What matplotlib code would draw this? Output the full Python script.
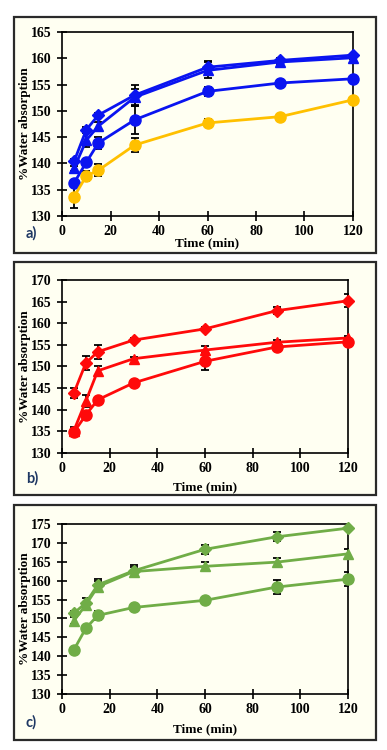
import matplotlib
matplotlib.use("Agg")
import matplotlib.pyplot as plt
from matplotlib.patches import Rectangle

time = [5, 10, 15, 30, 60, 90, 120]

# Panel a (blue + orange)
a_diamond = [140.4, 146.4, 149.2, 153.0, 158.3, 159.6, 160.6]
a_diamond_err = [0.4, 0.5, 0.4, 2.0, 1.2, 0.4, 0.3]
a_triangle = [139.1, 144.4, 147.1, 152.6, 157.7, 159.3, 160.1]
a_triangle_err = [0.5, 1.3, 0.8, 1.5, 1.5, 0.4, 0.3]
a_circle = [136.3, 140.2, 143.9, 148.3, 153.7, 155.3, 156.1]
a_circle_err = [0.6, 0.6, 1.2, 2.7, 0.8, 0.3, 0.3]
a_orange = [133.7, 137.6, 138.7, 143.5, 147.7, 148.9, 152.1]
a_orange_err = [2.2, 1.0, 1.1, 1.3, 0.8, 0.3, 0.3]

# Panel b (red)
b_diamond = [143.9, 150.8, 153.4, 156.1, 158.7, 162.9, 165.2]
b_diamond_err = [1.2, 1.6, 1.6, 0.5, 0.5, 0.8, 1.5]
b_triangle = [135.2, 142.0, 149.0, 151.8, 153.8, 155.6, 156.6]
b_triangle_err = [0.8, 1.3, 1.0, 0.4, 0.9, 0.6, 0.5]
b_circle = [134.8, 138.8, 142.3, 146.2, 151.2, 154.5, 155.7]
b_circle_err = [0.8, 0.4, 0.4, 0.3, 2.0, 0.9, 0.5]

# Panel c (green)
c_diamond = [151.4, 154.1, 158.9, 162.6, 168.3, 171.6, 173.9]
c_diamond_err = [0.6, 1.2, 1.6, 1.6, 1.2, 1.2, 0.3]
c_triangle = [149.4, 153.6, 158.4, 162.4, 163.8, 164.9, 167.1]
c_triangle_err = [1.0, 0.8, 1.5, 1.3, 1.2, 1.2, 1.3]
c_circle = [141.7, 147.4, 150.8, 152.9, 154.8, 158.3, 160.4]
c_circle_err = [0.6, 0.3, 1.2, 0.3, 0.3, 1.8, 1.8]

xticks = [0, 20, 40, 60, 80, 100, 120]
ylims = [(130, 165), (130, 170), (130, 175)]
panel_labels = ["a)", "b)", "c)"]

BLUE = "#0A14F0"
ORANGE = "#FFC000"
RED = "#FF0A0A"
GREEN = "#70AD47"
CREAM = "#FFFFF2"

W, H = 387, 750
fig = plt.figure(figsize=(W / 100, H / 100), dpi=100)

def fx(px):
    return px / W

def fy(py):
    return 1 - py / H

panel_boxes = [(14, 17, 376, 253), (14, 262, 376, 495), (14, 505, 376, 740)]
axes_boxes = [(62, 32, 353, 216), (62, 280, 348, 453), (62, 524, 348, 694)]
xlabel_y = [243, 487, 729]
plabel_y = [233, 478, 722]
ylabel_x = 31

series = [
    [(a_diamond, a_diamond_err, "D", BLUE, 6),
     (a_triangle, a_triangle_err, "^", BLUE, 7.5),
     (a_circle, a_circle_err, "o", BLUE, 8),
     (a_orange, a_orange_err, "o", ORANGE, 8)],
    [(b_diamond, b_diamond_err, "D", RED, 6),
     (b_triangle, b_triangle_err, "^", RED, 7.5),
     (b_circle, b_circle_err, "o", RED, 8)],
    [(c_diamond, c_diamond_err, "D", GREEN, 6),
     (c_triangle, c_triangle_err, "^", GREEN, 7.5),
     (c_circle, c_circle_err, "o", GREEN, 8)],
]

serif = "Liberation Serif"

for i in range(3):
    l, t, r, b = panel_boxes[i]
    fig.patches.append(Rectangle((fx(l), fy(b)), fx(r) - fx(l), fy(t) - fy(b),
                                 transform=fig.transFigure, facecolor=CREAM,
                                 edgecolor="#2a2a2a", linewidth=1.6, zorder=-10))
    l, t, r, b = axes_boxes[i]
    ax = fig.add_axes([fx(l), fy(b), fx(r) - fx(l), fy(t) - fy(b)])
    ax.set_zorder(1)
    ax.set_facecolor(CREAM)
    for vals, errs, mk, col, ms in series[i]:
        ax.errorbar(time, vals, yerr=errs, fmt="none", ecolor="black",
                    elinewidth=1.3, capsize=3, capthick=1.3, zorder=2)
        ax.plot(time, vals, color=col, lw=2, marker=mk, ms=ms,
                markeredgecolor=col, zorder=3, clip_on=False)
    ax.set_xlim(0, 120)
    ax.set_ylim(*ylims[i])
    ax.set_xticks(xticks)
    ax.set_yticks(range(ylims[i][0], ylims[i][1] + 1, 5))
    ax.tick_params(direction="inout", length=7, width=1.2, labelsize=10)
    ax.tick_params(axis="y", pad=4)
    ax.tick_params(axis="x", pad=3)
    for lab in ax.get_xticklabels() + ax.get_yticklabels():
        lab.set_fontfamily(serif)
        lab.set_fontweight("bold")
    for sp in ax.spines.values():
        sp.set_linewidth(1.2)
        sp.set_color("black")
    ax.set_ylabel("%Water absorption", fontfamily=serif, fontweight="bold",
                  fontsize=9.5)
    ax.yaxis.set_label_coords((ylabel_x - l) / (r - l), 0.5)
    fig.text(fx((l + r) / 2), fy(xlabel_y[i]), "Time (min)", ha="center",
             va="center", fontfamily=serif, fontweight="bold", fontsize=9.5,
             zorder=2)
    fig.text(fx(26), fy(plabel_y[i]), panel_labels[i], ha="left", va="center",
             fontfamily="Lato", fontweight="bold", fontsize=10.5,
             color="#1F3864", zorder=2)

fig.savefig("out.png", dpi=100, facecolor="white")
